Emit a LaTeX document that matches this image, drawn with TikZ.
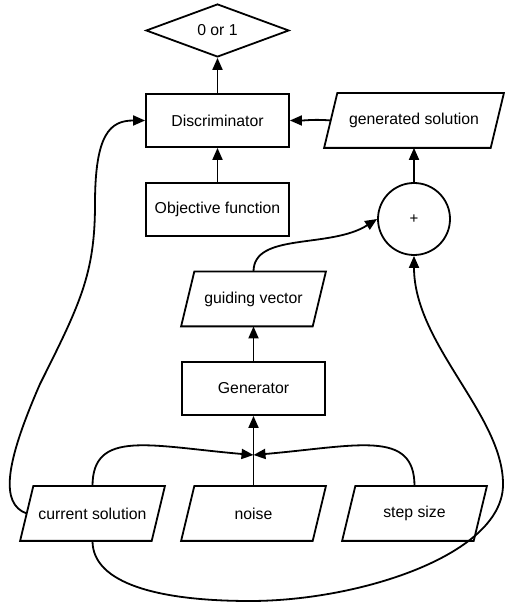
\documentclass[tikz,border=0pt]{standalone}
\usepackage{fontspec}
\setmainfont{Liberation Sans}
\usetikzlibrary{shapes.geometric,arrows.meta}

\begin{document}
\begin{tikzpicture}[x=1pt,y=1pt,line width=1.8pt,
    every node/.style={font=\fontsize{15.8}{19}\selectfont},
    block/.style={draw, rectangle, minimum width=143pt, minimum height=53pt, inner sep=0pt},
    io/.style={rectangle, minimum width=129.8pt, minimum height=53pt, inner sep=0pt},
    decision/.style={draw, diamond, aspect=2.7, minimum width=143pt, minimum height=53pt, inner sep=0pt},
    adder/.style={draw, circle, minimum size=72pt, inner sep=0pt, font=\fontsize{15}{17}\selectfont},
    arr/.style={-{Triangle[length=12pt,width=10pt]}}]
    \useasboundingbox (0,0) rectangle (505,604);

    \node[decision] (out) at (217.5, 573.5) {0 or 1};
    \node[block] (disc) at (217.5, 483.5) {Discriminator};
    \node[io, minimum width=164.8pt] (gensol) at (414, 483.5) {generated solution};
    \node[block] (objfun) at (217.5, 394.5) {Objective function};
    \node[adder] (plus) at (414, 385) {+};
    \node[io] (guide) at (253.5, 305) {guiding vector};
    \node[block] (gen) at (253.5, 215.5) {Generator};
    \coordinate (join) at (253.5, 149);
    \node[io] (cursol) at (92.5, 90.5) {current solution};
    \node[io] (noise) at (253.5, 90.5) {noise};
    \node[io] (stepsize) at (414.5, 90.5) {step size};

    % slanted outlines of the data nodes
    \foreach \n in {gensol, guide, cursol, noise, stepsize}
        \draw ([xshift=-6.6pt]\n.south west) -- ([xshift=6.6pt]\n.north west)
            -- ([xshift=6.6pt]\n.north east) -- ([xshift=-6.6pt]\n.south east) -- cycle;

    \draw[arr] (disc.north) -- (out.south);
    \draw[arr] (objfun.north) -- (disc.south);
    \draw[arr] (plus.north) -- (gensol.south);
    \draw[arr] (gensol.west) to[out=175,in=0] (disc.east);
    \draw[arr] (gen.north) -- (guide.south);
    \draw[arr] (noise.north) -- (gen.south);
    \draw[arr] (guide.north) .. controls (253.5,372) and (330,355) .. (plus.west);
    \draw[arr] (cursol.north) .. controls (92.5,175) and (150,158) .. (join);
    \draw[arr] (stepsize.north) .. controls (414.5,175) and (357,158) .. (join);
    % feedback of the current solution
    \draw[arr] (cursol.west) .. controls (0,100) and (5,140) .. (40,220)
        .. controls (80,300) and (95,330) .. (95,400)
        .. controls (95,470) and (110,483.5) .. (disc.west);
    \draw[arr] (cursol.south) .. controls (92.5,20) and (160,3) .. (250,3)
        .. controls (360,3) and (505,50) .. (503,121)
        .. controls (502,190) and (414,260) .. (plus.south);
\end{tikzpicture}
\end{document}
